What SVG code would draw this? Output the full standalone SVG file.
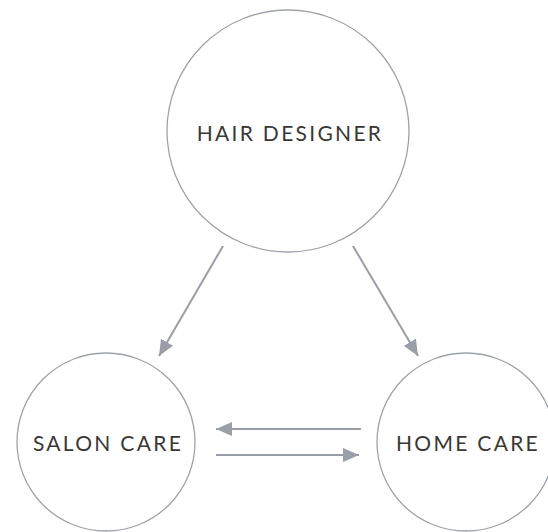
<svg xmlns="http://www.w3.org/2000/svg" width="548" height="532" viewBox="0 0 548 532">
<defs>
<style>
.node{fill:#fff;stroke:#9ea2a9;stroke-width:1.3}
.lbl{font-family:Lato,"Open Sans","Liberation Sans",sans-serif;font-size:21px;fill:#3a3835;text-anchor:middle;letter-spacing:2.3px}
.edge{stroke:#9a9ea6;stroke-width:2;fill:none}
</style>
<marker id="ah" markerWidth="16" markerHeight="14" refX="16" refY="7" orient="auto" markerUnits="userSpaceOnUse">
<path d="M0,0 L16,7 L0,14 Z" fill="#9a9ea6"/>
</marker>
</defs>
<g id="hair-designer">
<circle class="node" cx="288" cy="131" r="121"/>
<text class="lbl" x="290" y="141">HAIR DESIGNER</text>
</g>
<g id="salon-care">
<circle class="node" cx="106" cy="442" r="89"/>
<text class="lbl" x="108" y="451">SALON CARE</text>
</g>
<g id="home-care">
<circle class="node" cx="466" cy="442" r="89"/>
<text class="lbl" x="468" y="451">HOME CARE</text>
</g>
<g id="connectors">
<line class="edge" x1="223" y1="246" x2="159" y2="356" marker-end="url(#ah)"/>
<line class="edge" x1="353" y1="246" x2="418" y2="356" marker-end="url(#ah)"/>
<line class="edge" x1="361" y1="429" x2="216" y2="429" marker-end="url(#ah)"/>
<line class="edge" x1="216" y1="455" x2="359" y2="455" marker-end="url(#ah)"/>
</g>
</svg>
